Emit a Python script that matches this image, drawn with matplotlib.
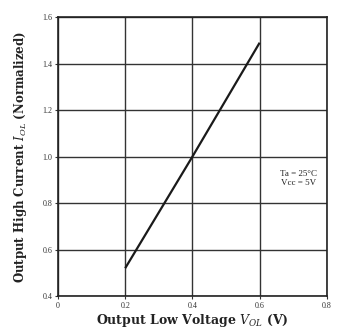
import numpy as np
import matplotlib
matplotlib.use("Agg")
import matplotlib.pyplot as plt

# values
v_ol = [0.2, 0.4, 0.6]
i_ol = [0.52, 1.0, 1.49]
x_ticks = [0, 0.2, 0.4, 0.6, 0.8]
x_labels = ["0", "0.2", "0.4", "0.6", "0.8"]
y_ticks = [0.4, 0.6, 0.8, 1.0, 1.2, 1.4, 1.6]
y_labels = ["0.4", "0.6", "0.8", "1.0", "1.2", "1.4", "1.6"]

plt.rcParams['font.family'] = ['Liberation Serif', 'DejaVu Serif']
plt.rcParams['mathtext.fontset'] = 'dejavuserif'

fig = plt.figure(figsize=(3.37, 3.29), dpi=100)
ax = fig.add_axes([0.172, 0.100, 0.798, 0.848])

ax.plot(v_ol, i_ol, color="#1a1a1a", lw=1.6, solid_capstyle="butt")

ax.set_xlim(0, 0.8)
ax.set_ylim(0.4, 1.6)
ax.set_xticks(x_ticks)
ax.set_xticklabels(x_labels)
ax.set_yticks(y_ticks)
ax.set_yticklabels(y_labels)
ax.grid(True, color="#333333", lw=1.0)
ax.tick_params(labelsize=5.8, length=2, width=0.8, colors="#333333", pad=2)
for s in ax.spines.values():
    s.set_linewidth(1.2)
    s.set_color("#222222")

ax.set_xlabel("Output Low Voltage $V_{OL}$ (V)", fontsize=9, fontweight="bold",
              family="DejaVu Serif", labelpad=2, color="#222222")
ax.set_ylabel("Output High Current $I_{OL}$ (Normalized)", fontsize=8.5, fontweight="bold",
              family="DejaVu Serif", labelpad=10, color="#222222")

ax.text(0.715, 0.905, "Ta = 25\u00b0C\nVcc = 5V", fontsize=6.5, ha="center", va="center",
        linespacing=1.1, color="#222222")

fig.savefig("out.png", dpi=100)
